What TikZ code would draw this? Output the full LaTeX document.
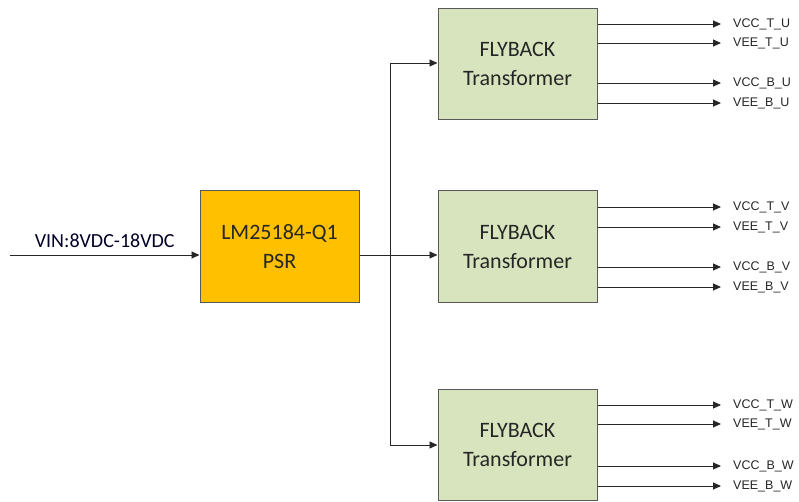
\documentclass[tikz,border=0pt]{standalone}
\usepackage{fontspec}
\setmainfont{Carlito}
\newfontfamily\lblfont{Liberation Sans}
\usetikzlibrary{arrows.meta}
\definecolor{psrfill}{HTML}{FFC000}
\definecolor{flyfill}{HTML}{D7E4BD}
\definecolor{boxline}{HTML}{595959}
\definecolor{txt}{HTML}{262626}
\begin{document}
\begin{tikzpicture}[x=1pt,y=-1pt,
  blk/.style={draw=boxline,line width=1pt,minimum width=159pt,minimum height=111pt,inner sep=0pt,align=center,text=txt,font=\fontsize{22}{29}\selectfont},
  psr/.style={blk,fill=psrfill},
  fly/.style={blk,fill=flyfill},
  wire/.style={line width=0.9pt,draw=black!85},
  arr/.style={wire,-{Triangle[length=8pt,width=7pt]}},
  lbl/.style={anchor=west,inner sep=0pt,text=txt,font=\lblfont\fontsize{12.5}{14}\selectfont}]
\useasboundingbox (0,0) rectangle (799,502);
\node[psr] (psr) at (279.5,246.5) {LM25184-Q1\\PSR};
\node[fly] (f1) at (517.5,64) {FLYBACK\\Transformer};
\node[fly] (f2) at (517.5,246.5) {FLYBACK\\Transformer};
\node[fly] (f3) at (517.5,445) {FLYBACK\\Transformer};
\coordinate (vin) at (10,255);
\coordinate (bt) at (390,63);
\coordinate (bb) at (390,445);
\draw[arr] (vin) -- (vin -| psr.west) node[midway,above=4pt,font=\fontsize{20}{24}\selectfont,text=black!85!blue] {VIN:8VDC-18VDC};
\draw[arr] (psr.east |- vin) -- (f2.west |- vin);
\draw[wire] (bt) -- (bb);
\draw[arr] (bt) -- (bt -| f1.west);
\draw[arr] (bb) -- (bb -| f3.west);
\foreach \b/\s/\ya/\yb/\yc/\yd in {f1/U/24/43/83/103, f2/V/207/227/267/287, f3/W/405/424/466/486}{
  \foreach \y/\t in {\ya/VCC\_T\_\s, \yb/VEE\_T\_\s, \yc/VCC\_B\_\s, \yd/VEE\_B\_\s}{
    \coordinate (e\b\y) at (721,\y);
    \draw[arr] (\b.east |- e\b\y) -- (e\b\y);
    \node[lbl] (l\b\y) at (733,\y) {\t};
  }
}
\end{tikzpicture}
\end{document}
